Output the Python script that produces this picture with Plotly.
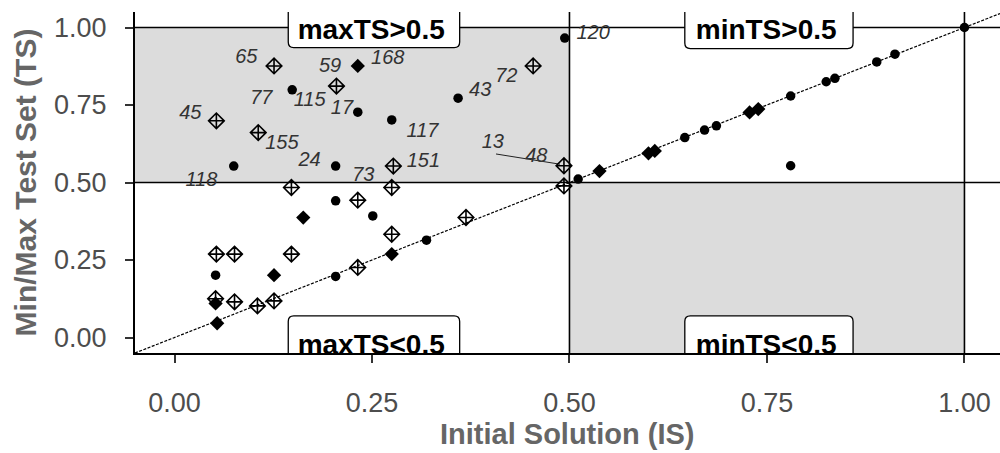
import plotly.graph_objects as go

# ---------------- data ----------------
circle_is = [0.149, 0.232, 0.275, 0.359, 0.494, 0.075, 0.204, 0.204, 0.052, 0.204,
             0.251, 0.319, 0.511, 0.646, 0.671, 0.686, 0.780, 0.780, 0.825, 0.836,
             0.889, 0.912, 1.000]
circle_ts = [0.799, 0.727, 0.702, 0.772, 0.966, 0.553, 0.553, 0.441, 0.201, 0.197,
             0.392, 0.314, 0.511, 0.645, 0.669, 0.683, 0.779, 0.554, 0.825, 0.836,
             0.889, 0.914, 1.000]

diamond_is = [0.232, 0.163, 0.126, 0.052, 0.054, 0.275, 0.538, 0.600, 0.608, 0.728, 0.739]
diamond_ts = [0.876, 0.387, 0.201, 0.110, 0.046, 0.269, 0.537, 0.594, 0.602, 0.726, 0.737]

cross_is = [0.126, 0.205, 0.053, 0.106, 0.148, 0.454, 0.493, 0.277, 0.275, 0.493,
            0.053, 0.076, 0.148, 0.052, 0.076, 0.105, 0.126, 0.232, 0.275, 0.369,
            0.232]
cross_ts = [0.876, 0.811, 0.699, 0.661, 0.484, 0.876, 0.554, 0.553, 0.484, 0.489,
            0.269, 0.269, 0.269, 0.125, 0.115, 0.102, 0.118, 0.443, 0.333, 0.387,
            0.226]

label_text = ["65", "59", "168", "77", "115", "17", "45", "155", "24", "117",
              "43", "72", "120", "13", "48", "151", "73", "118"]
label_is = [0.091, 0.197, 0.270, 0.110, 0.171, 0.212, 0.020, 0.136, 0.171, 0.314,
            0.387, 0.420, 0.530, 0.403, 0.458, 0.315, 0.239, 0.034]
label_ts = [0.901, 0.872, 0.900, 0.769, 0.762, 0.736, 0.720, 0.624, 0.570, 0.662,
            0.796, 0.839, 0.978, 0.629, 0.581, 0.565, 0.521, 0.505]

leader_is = [0.407, 0.488]
leader_ts = [0.592, 0.559]

quad_text = ["maxTS>0.5", "minTS>0.5", "maxTS<0.5", "minTS<0.5"]
quad_is = [0.249, 0.749, 0.249, 0.749]
quad_ts = [0.984, 0.984, -0.031, -0.031]

ref_levels = [0.5, 1.0]

ticks = [0, 0.25, 0.5, 0.75, 1.0]
tick_labels = ["0.00", "0.25", "0.50", "0.75", "1.00"]

X_RANGE = [-0.05, 1.045]
Y_RANGE = [-0.05, 1.05]

FONT = "Liberation Sans, Arial, sans-serif"

fig = go.Figure()

# diagonal y = x
fig.add_trace(go.Scatter(x=[X_RANGE[0], 1.1], y=[X_RANGE[0], 1.1], mode="lines",
                         line=dict(color="black", width=1.2, dash="3px,1.5px"),
                         hoverinfo="skip", showlegend=False))
# leader line
fig.add_trace(go.Scatter(x=leader_is, y=leader_ts, mode="lines",
                         line=dict(color="#222222", width=1),
                         hoverinfo="skip", showlegend=False))

fig.add_trace(go.Scatter(x=circle_is, y=circle_ts, mode="markers",
                         marker=dict(symbol="circle", size=9.5, color="black"),
                         showlegend=False))
fig.add_trace(go.Scatter(x=diamond_is, y=diamond_ts, mode="markers",
                         marker=dict(symbol="diamond", size=11, color="black"),
                         showlegend=False))
fig.add_trace(go.Scatter(x=cross_is, y=cross_ts, mode="markers",
                         marker=dict(symbol="diamond-cross-open", size=12, color="black",
                                     line=dict(width=1.6, color="black")),
                         showlegend=False))

fig.add_trace(go.Scatter(x=label_is, y=label_ts, mode="text", text=label_text,
                         textposition="middle center",
                         textfont=dict(family=FONT, size=20, color="#333333", style="italic"),
                         showlegend=False, hoverinfo="skip"))

shapes = []
# grey quadrants
shapes.append(dict(type="rect", xref="x", yref="y", x0=X_RANGE[0] - 0.1, x1=0.5, y0=0.5, y1=1.0,
                   fillcolor="#DCDCDC", line=dict(width=0), layer="below"))
shapes.append(dict(type="rect", xref="x", yref="y", x0=0.5, x1=1.0, y0=Y_RANGE[0] - 0.1, y1=0.5,
                   fillcolor="#DCDCDC", line=dict(width=0), layer="below"))
# reference lines (data refs, extended past the range and clipped)
for v in ref_levels:
    shapes.append(dict(type="line", xref="x", yref="y", x0=v, x1=v,
                       y0=Y_RANGE[0] - 0.2, y1=Y_RANGE[1] + 0.2,
                       line=dict(color="black", width=1.6), layer="below"))
    shapes.append(dict(type="line", xref="x", yref="y", x0=X_RANGE[0] - 0.2,
                       x1=X_RANGE[1] + 0.2, y0=v, y1=v,
                       line=dict(color="black", width=1.6), layer="below"))

# quadrant label boxes with rounded inner corners
rx, ry = 0.007, 0.018
box_specs = [(0.144, 0.361, 0.935, True), (0.646, 0.859, 0.932, True),
             (0.144, 0.361, 0.070, False), (0.646, 0.859, 0.070, False)]
for x0, x1, yb, top in box_specs:
    if top:
        yt = 1.2
        path = (f"M {x0},{yt} L {x0},{yb+ry} Q {x0},{yb} {x0+rx},{yb} "
                f"L {x1-rx},{yb} Q {x1},{yb} {x1},{yb+ry} L {x1},{yt} Z")
    else:
        ybot = -0.2
        path = (f"M {x0},{ybot} L {x0},{yb-ry} Q {x0},{yb} {x0+rx},{yb} "
                f"L {x1-rx},{yb} Q {x1},{yb} {x1},{yb-ry} L {x1},{ybot} Z")
    shapes.append(dict(type="path", xref="x", yref="y", path=path,
                       fillcolor="white", line=dict(color="black", width=1.3), layer="below"))

fig.add_trace(go.Scatter(x=quad_is, y=quad_ts, mode="text", text=quad_text,
                         textposition="middle center", cliponaxis=True,
                         textfont=dict(family=FONT, size=28, color="black", weight="bold"),
                         showlegend=False, hoverinfo="skip"))

fig.update_layout(
    width=1000, height=453,
    margin=dict(l=135, r=0, t=12, b=100),
    paper_bgcolor="white", plot_bgcolor="white",
    font=dict(family=FONT),
    shapes=shapes,
    showlegend=False,
    annotations=[dict(text="<b>Initial Solution (IS)</b>", xref="paper", yref="paper",
                      x=0.5, y=-0.238, xanchor="center", yanchor="middle",
                      showarrow=False,
                      font=dict(size=29, color="#666666", family=FONT))],
)
fig.update_xaxes(range=X_RANGE, showgrid=False, zeroline=False,
                 showline=True, linecolor="black", linewidth=2,
                 ticks="outside", ticklen=8, tickwidth=1.5, tickcolor="#333333",
                 tickvals=ticks, ticktext=tick_labels,
                 tickfont=dict(size=27, color="#4D4D4D", family=FONT),
                 ticklabelstandoff=17,
                 automargin=False)
fig.update_yaxes(range=Y_RANGE, showgrid=False, zeroline=False,
                 showline=True, linecolor="black", linewidth=2,
                 ticks="outside", ticklen=8, tickwidth=1.5, tickcolor="#333333",
                 tickvals=ticks, ticktext=tick_labels,
                 tickfont=dict(size=27, color="#4D4D4D", family=FONT),
                 ticklabelstandoff=13,
                 title=dict(text="<b>Min/Max Test Set (TS)</b>", standoff=9,
                            font=dict(size=30, color="#666666", family=FONT)),
                 automargin=False)

fig.write_html("out.html")
